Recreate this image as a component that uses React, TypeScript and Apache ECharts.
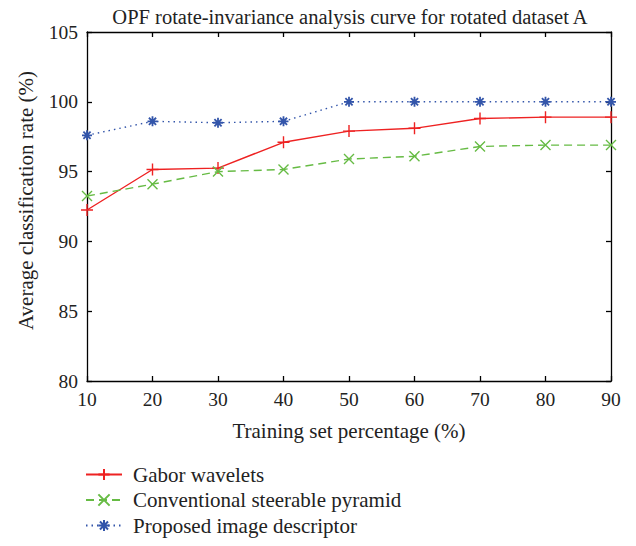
import React, { useEffect, useRef } from "react";
import * as echarts from "echarts";

const xValues = [10, 20, 30, 40, 50, 60, 70, 80, 90];
const gabor = [92.25, 95.15, 95.25, 97.1, 97.9, 98.1, 98.8, 98.9, 98.9];
const steerable = [93.25, 94.1, 95.0, 95.15, 95.9, 96.1, 96.8, 96.9, 96.9];
const proposed = [97.6, 98.6, 98.5, 98.6, 100, 100, 100, 100, 100];
const seriesNames = ["Gabor wavelets", "Conventional steerable pyramid", "Proposed image descriptor"];
const titleText = "OPF rotate-invariance analysis curve for rotated dataset A";
const xName = "Training set percentage (%)";
const yName = "Average classification rate (%)";

const FONT = "Liberation Serif";
const FS = 21;
const TICK_FS = 19.5;
const plus = "path://M0,-1L0,1M-1,0L1,0";
const cross = "path://M-1,-1L1,1M-1,1L1,-1";
const star = "path://M0,-1L0,1M-1,0L1,0M-0.72,-0.72L0.72,0.72M-0.72,0.72L0.72,-0.72";

export default function App() {
  const ref = useRef<HTMLDivElement>(null);
  useEffect(() => {
    if (!ref.current) return;
    const chart = echarts.init(ref.current, null, { renderer: "svg" });
    const pair = (arr: number[]) => xValues.map((x, i) => [x, arr[i]]);
    const txt = { fontFamily: FONT, fontSize: FS, color: "#222" };
    const tickTxt = { fontFamily: FONT, fontSize: TICK_FS, color: "#222" };
    const axisCommon = {
      axisLine: { show: true, lineStyle: { color: "#000", width: 1.3 } },
      axisTick: { show: true, inside: true, length: 5, lineStyle: { color: "#000", width: 1.3 } },
      splitLine: { show: false },
    };
    chart.setOption({
      animation: false,
      backgroundColor: "#fff",
      textStyle: { fontFamily: FONT },
      title: {
        text: titleText,
        left: 345,
        textAlign: "center",
        top: 1,
        textStyle: { ...txt, fontSize: 20.5, fontWeight: "normal" },
      },
      grid: { left: 87, right: 25, top: 32, bottom: 165, containLabel: false, outerBoundsMode: "none" },
      legend: {
        orient: "vertical",
        left: 85,
        top: 464,
        height: 90,
        padding: 0,
        itemWidth: 36,
        itemHeight: 14,
        itemGap: 4.5,
        textStyle: { ...txt, padding: [0, 0, 0, 6] },
        data: seriesNames,
      },
      xAxis: [
        {
          type: "value",
          min: 10,
          max: 90,
          interval: 10,
          position: "bottom",
          name: xName,
          nameLocation: "middle",
          nameGap: 39,
          nameTextStyle: txt,
          axisLabel: { ...tickTxt, margin: 8 },
          ...axisCommon,
        },
        {
          type: "value",
          min: 10,
          max: 90,
          interval: 10,
          position: "top",
          axisLabel: { show: false },
          ...axisCommon,
        },
      ],
      yAxis: [
        {
          type: "value",
          min: 80,
          max: 105,
          interval: 5,
          position: "left",
          name: yName,
          nameLocation: "middle",
          nameGap: 51,
          nameTextStyle: { ...txt, padding: [0, 0, 0, 12] },
          axisLabel: { ...tickTxt, margin: 9 },
          ...axisCommon,
        },
        {
          type: "value",
          min: 80,
          max: 105,
          interval: 5,
          position: "right",
          axisLabel: { show: false },
          ...axisCommon,
        },
      ],
      series: [
        {
          name: seriesNames[0],
          type: "line",
          data: pair(gabor),
          symbol: plus,
          symbolSize: 12,
          lineStyle: { color: "#ee2222", width: 1.4, type: "solid" },
          itemStyle: { color: "#ee2222", borderColor: "#ee2222", borderWidth: 1.4 },
        },
        {
          name: seriesNames[1],
          type: "line",
          data: pair(steerable),
          symbol: cross,
          symbolSize: 10,
          lineStyle: { color: "#66bb44", width: 1.4, type: [8, 5] },
          itemStyle: { color: "#66bb44", borderColor: "#66bb44", borderWidth: 1.4 },
        },
        {
          name: seriesNames[2],
          type: "line",
          data: pair(proposed),
          symbol: star,
          symbolSize: 10,
          lineStyle: { color: "#3355aa", width: 1.4, type: [1.5, 4] },
          itemStyle: { color: "#3355aa", borderColor: "#3355aa", borderWidth: 1.8 },
        },
      ],
    });
    return () => chart.dispose();
  }, []);
  return <div ref={ref} style={{ width: 636, height: 546, position: "absolute", left: 0, top: 0 }} />;
}
